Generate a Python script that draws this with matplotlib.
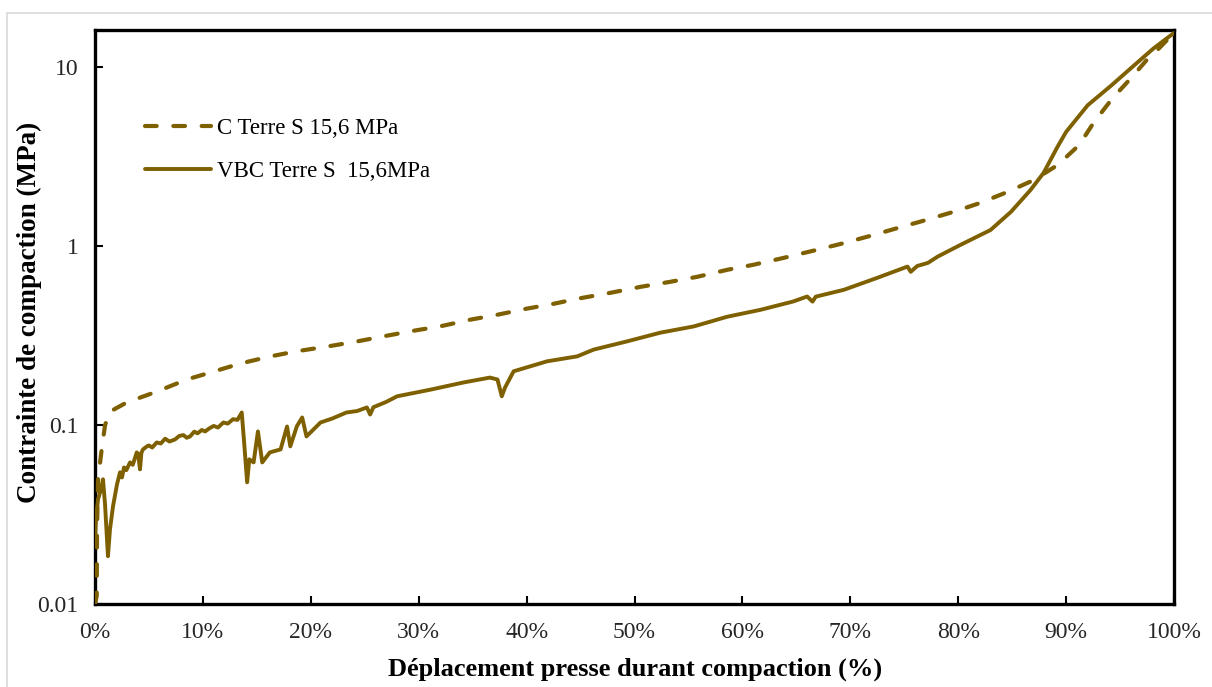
import matplotlib
matplotlib.use("Agg")
import matplotlib.pyplot as plt
from matplotlib.patches import Rectangle
from matplotlib.ticker import FixedLocator, FixedFormatter, NullLocator

# ---- Data ----
c_x = [0.0, 0.16, 0.19, 0.28, 0.62, 0.93, 1.39, 2.94, 5.72, 8.5, 10.95, 13.45, 16.2,
       18.7, 21.5, 24.3, 26.7, 29.5, 32.0, 34.8, 37.3, 40.0, 42.5, 44.7, 47.8, 50.6,
       53.3, 55.8, 58.6, 61.0, 63.8, 66.6, 69.1, 71.6, 74.4, 76.8, 79.6, 82.1, 84.6,
       87.0, 89.2, 91.2, 92.6, 94.3, 96.0, 97.6, 98.6, 100.0]
c_y = [0.010, 0.0111, 0.0262, 0.0498, 0.0732, 0.1000, 0.119, 0.134, 0.154, 0.180,
       0.199, 0.221, 0.242, 0.259, 0.275, 0.294, 0.3135, 0.337, 0.357, 0.389, 0.4145,
       0.448, 0.477, 0.509, 0.550, 0.594, 0.633, 0.675, 0.739, 0.788, 0.861, 0.946,
       1.031, 1.133, 1.266, 1.391, 1.561, 1.753, 2.018, 2.346, 2.844, 3.678, 4.96,
       6.725, 8.70, 11.24, 12.78, 15.6]

vbc_x = [0.0, 0.09, 0.28, 0.56, 0.74, 0.93, 1.2, 1.39, 1.67, 2.04, 2.32, 2.5, 2.69,
         2.9, 3.25, 3.5, 3.87, 4.0, 4.17, 4.3, 4.45, 4.8, 5.0, 5.3, 5.72, 6.1, 6.5,
         6.9, 7.42, 7.8, 8.2, 8.5, 8.81, 9.2, 9.5, 9.9, 10.2, 10.6, 11.0, 11.4,
         11.9, 12.3, 12.8, 13.2, 13.6, 13.8, 14.1, 14.3, 14.7, 15.1, 15.5, 16.2,
         17.2, 17.8, 18.1, 18.7, 19.2, 19.6, 20.9, 22.0, 23.3, 24.3, 25.2, 25.5,
         25.8, 27.0, 28.0, 31.1, 34.1, 36.6, 37.3, 37.7, 38.0, 38.8, 41.9, 44.7,
         46.2, 49.3, 52.4, 55.5, 58.6, 61.7, 64.7, 66.0, 66.5, 66.8, 69.4, 72.5,
         75.3, 75.6, 76.2, 77.2, 78.1, 80.2, 83.0, 84.9, 86.7, 87.9, 89.2, 90.0,
         92.0, 94.2, 96.3, 98.1, 100.0]
vbc_y = [0.023, 0.0298, 0.0386, 0.0438, 0.0498, 0.0361, 0.0185, 0.0262, 0.0352, 0.0467,
         0.0545, 0.0510, 0.058, 0.0560, 0.0619, 0.0600, 0.0704, 0.0690, 0.0566, 0.0700,
         0.0732, 0.0760, 0.0770, 0.0750, 0.080, 0.0790, 0.0840, 0.0810, 0.0832,
         0.0870, 0.0880, 0.0850, 0.0865, 0.0920, 0.0900, 0.0940, 0.0922, 0.0960,
         0.0990, 0.0970, 0.1035, 0.1020, 0.1080, 0.1070, 0.1177, 0.0832, 0.0479,
         0.0644, 0.0619, 0.0922, 0.0619, 0.0704, 0.0732, 0.0983, 0.0761, 0.0983,
         0.1104, 0.0865, 0.1035, 0.1090, 0.1177, 0.1200, 0.1256, 0.1147, 0.1260,
         0.1350, 0.145, 0.158, 0.173, 0.1845, 0.180, 0.145, 0.1623, 0.2001, 0.2275,
         0.2425, 0.2644, 0.294, 0.329, 0.3566, 0.404, 0.4418, 0.4914, 0.524, 0.4906,
         0.523, 0.5712, 0.6664, 0.7704, 0.720, 0.776, 0.808, 0.876, 1.018, 1.234,
         1.561, 2.064, 2.567, 3.597, 4.362, 6.147, 7.94, 10.27, 12.78, 15.6]

x_ticks = [0, 10, 20, 30, 40, 50, 60, 70, 80, 90, 100]
x_tick_labels = ["0%", "10%", "20%", "30%", "40%", "50%", "60%", "70%", "80%", "90%", "100%"]
y_ticks = [0.01, 0.1, 1, 10]
y_tick_labels = ["0.01", "0.1", "1", "10"]

label_c = "C Terre S 15,6 MPa"
label_vbc = "VBC Terre S  15,6MPa"
xlabel = "Déplacement presse durant compaction (%)"
ylabel = "Contrainte de compaction (MPa)"

color = "#7F6000"

plt.rcParams['font.family'] = ['Liberation Serif', 'DejaVu Serif']

fig = plt.figure(figsize=(12.12, 6.87), dpi=100)
fig.patch.set_facecolor("white")
ax = fig.add_axes([95 / 1212, 1 - 604 / 687, (1174 - 95) / 1212, (604 - 30) / 687])

# light grey frame around the figure
fig.patches.append(Rectangle((7 / 1212, -0.01), 1.2, 1 - 13 / 687 + 0.01,
                             transform=fig.transFigure, fill=False,
                             edgecolor="#d9d9d9", linewidth=1.2, zorder=0))

ax.plot(c_x, c_y, color=color, linewidth=3.0, linestyle=(0, (2.8, 4.0)),
        dash_capstyle='round', label=label_c, zorder=3)
ax.plot(vbc_x, vbc_y, color=color, linewidth=2.8, solid_capstyle='round',
        solid_joinstyle='round', label=label_vbc, zorder=3)

ax.set_yscale('log')
ax.set_xlim(0, 100)
ax.set_ylim(0.01, 16.2)

ax.xaxis.set_major_locator(FixedLocator(x_ticks))
ax.xaxis.set_major_formatter(FixedFormatter(x_tick_labels))
ax.yaxis.set_major_locator(FixedLocator(y_ticks))
ax.yaxis.set_major_formatter(FixedFormatter(y_tick_labels))
ax.yaxis.set_minor_locator(NullLocator())
ax.xaxis.set_minor_locator(NullLocator())

ax.tick_params(axis='both', which='major', direction='in', length=6, width=1.5,
               labelsize=17, colors='black', labelcolor='#262626')
ax.tick_params(axis='x', pad=13)
ax.tick_params(axis='y', pad=12)

for s in ax.spines.values():
    s.set_linewidth(2.4)
    s.set_color('black')

ax.set_xlabel(xlabel, fontsize=19, fontweight='bold')
ax.set_ylabel(ylabel, fontsize=19.5, fontweight='bold')
ax.yaxis.set_label_coords(-0.049, 0.508)
ax.xaxis.set_label_coords(0.5005, -0.094)

leg = ax.legend(loc='upper left', bbox_to_anchor=(0.027, 0.882), frameon=False,
                fontsize=16.5, handlelength=2.9, handletextpad=0.25, labelspacing=0.95)

fig.savefig("out.png", dpi=100, facecolor="white")
